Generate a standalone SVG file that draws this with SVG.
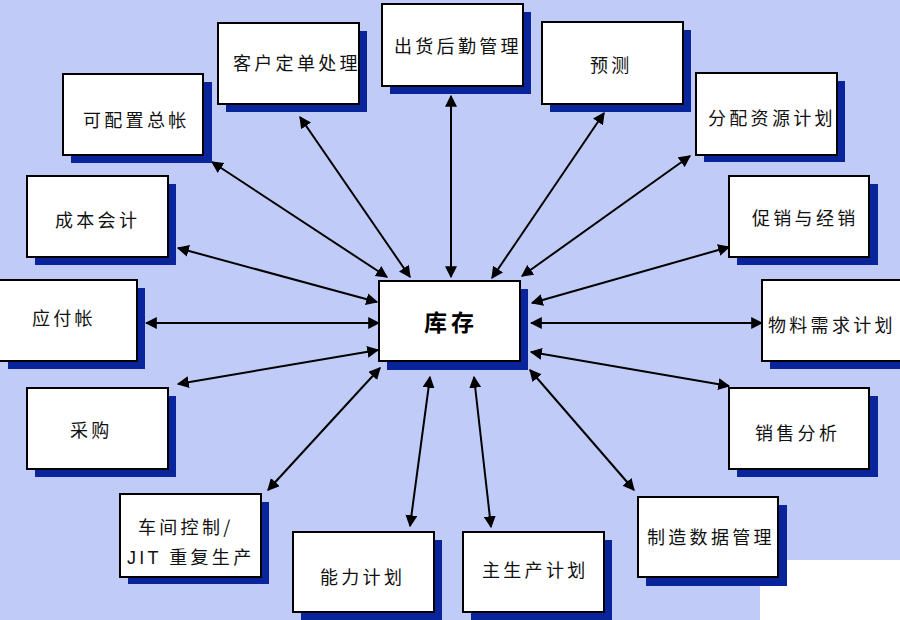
<svg xmlns="http://www.w3.org/2000/svg" width="900" height="620" viewBox="0 0 900 620">
<defs>
<marker id="ah" viewBox="0 0 10 10" refX="9" refY="5" markerWidth="6" markerHeight="6" orient="auto-start-reverse" markerUnits="strokeWidth">
<path d="M0,0 L10,5 L0,10 z" fill="#000"/>
</marker>
<style>
.sh{fill:#0a249c}
.bx{fill:#fff;stroke:#000;stroke-width:2}
.t{font-family:"Noto Sans CJK SC","Liberation Serif",serif;font-size:18px;letter-spacing:3.3px;fill:#111}
.tm{font-family:"Liberation Sans","Noto Sans CJK SC",sans-serif}
.c{font-family:"Noto Sans CJK SC",serif;font-size:23px;font-weight:bold;letter-spacing:4px;fill:#000}
.ln{stroke:#000;stroke-width:2;fill:none;marker-start:url(#ah);marker-end:url(#ah)}
</style>
</defs>
<rect x="0" y="0" width="900" height="620" fill="#c0cbf8"/>
<rect x="760" y="560" width="140" height="60" fill="#fff"/>
<g id="connectors">
<line class="ln" x1="300" y1="117" x2="410" y2="277"/>
<line class="ln" x1="451" y1="96" x2="451" y2="277"/>
<line class="ln" x1="604" y1="113" x2="492" y2="278"/>
<line class="ln" x1="690" y1="156" x2="522" y2="276"/>
<line class="ln" x1="212" y1="162" x2="387" y2="277"/>
<line class="ln" x1="729" y1="247" x2="532" y2="303"/>
<line class="ln" x1="178" y1="248" x2="377" y2="302"/>
<line class="ln" x1="531" y1="323" x2="762" y2="323"/>
<line class="ln" x1="146" y1="323" x2="379" y2="323"/>
<line class="ln" x1="531" y1="352" x2="729" y2="386"/>
<line class="ln" x1="178" y1="384" x2="378" y2="350"/>
<line class="ln" x1="268" y1="490" x2="380" y2="368"/>
<line class="ln" x1="430" y1="377" x2="410" y2="526"/>
<line class="ln" x1="474" y1="377" x2="491" y2="527"/>
<line class="ln" x1="530" y1="370" x2="634" y2="490"/>
</g>
<g id="n-center">
<rect class="sh" x="387" y="289" width="141" height="81"/>
<rect class="bx" x="379" y="281" width="141" height="80"/>
<text class="c" x="424" y="331">库存</text>
</g>
<g id="n-kehu">
<rect class="sh" x="226" y="31" width="141" height="81"/>
<rect class="bx" x="218" y="23" width="141" height="81"/>
<text class="t" x="233" y="70">客户定单处理</text>
</g>
<g id="n-chuhuo">
<rect class="sh" x="390" y="12" width="141" height="82"/>
<rect class="bx" x="382" y="4" width="141" height="82"/>
<text class="t" x="394" y="53">出货后勤管理</text>
</g>
<g id="n-yuce">
<rect class="sh" x="550" y="30" width="141" height="82"/>
<rect class="bx" x="542" y="22" width="141" height="82"/>
<text class="t" x="590" y="72">预测</text>
</g>
<g id="n-fenpei">
<rect class="sh" x="704" y="81" width="141" height="81"/>
<rect class="bx" x="696" y="73" width="141" height="82"/>
<text class="t" x="708" y="125">分配资源计划</text>
</g>
<g id="n-kepeizhi">
<rect class="sh" x="71" y="82" width="141" height="81"/>
<rect class="bx" x="63" y="74" width="140" height="81"/>
<text class="t" x="83" y="127">可配置总帐</text>
</g>
<g id="n-chengben">
<rect class="sh" x="35" y="184" width="141" height="81"/>
<rect class="bx" x="27" y="176" width="141" height="81"/>
<text class="t" x="55" y="227">成本会计</text>
</g>
<g id="n-yingfu">
<rect class="sh" x="8" y="288" width="137" height="81"/>
<rect class="bx" x="-2" y="280" width="139" height="81"/>
<text class="t" x="32" y="325">应付帐</text>
</g>
<g id="n-caigou">
<rect class="sh" x="35" y="396" width="141" height="81"/>
<rect class="bx" x="27" y="388" width="141" height="81"/>
<text class="t" x="70" y="437">采购</text>
</g>
<g id="n-chejian">
<rect class="sh" x="128" y="502" width="141" height="82"/>
<rect class="bx" x="120" y="494" width="141" height="83"/>
<text class="t" x="138" y="534">车间控制/</text>
<text class="t" x="127" y="564"><tspan class="tm">JIT</tspan> 重复生产</text>
</g>
<g id="n-nengli">
<rect class="sh" x="301" y="540" width="141" height="82"/>
<rect class="bx" x="293" y="532" width="141" height="80"/>
<text class="t" x="320" y="584">能力计划</text>
</g>
<g id="n-zhusheng">
<rect class="sh" x="471" y="540" width="141" height="82"/>
<rect class="bx" x="463" y="532" width="141" height="80"/>
<text class="t" x="482" y="577">主生产计划</text>
</g>
<g id="n-zhizao">
<rect class="sh" x="646" y="505" width="141" height="81"/>
<rect class="bx" x="638" y="497" width="140" height="80"/>
<text class="t" x="647" y="544">制造数据管理</text>
</g>
<g id="n-wuliao">
<rect class="sh" x="770" y="288" width="141" height="81"/>
<rect class="bx" x="762" y="280" width="141" height="81"/>
<text class="t" x="768" y="332">物料需求计划</text>
</g>
<g id="n-cuxiao">
<rect class="sh" x="737" y="184" width="141" height="81"/>
<rect class="bx" x="729" y="176" width="140" height="81"/>
<text class="t" x="752" y="225">促销与经销</text>
</g>
<g id="n-xiaoshou">
<rect class="sh" x="737" y="396" width="141" height="81"/>
<rect class="bx" x="729" y="388" width="140" height="81"/>
<text class="t" x="755" y="440">销售分析</text>
</g>
</svg>
